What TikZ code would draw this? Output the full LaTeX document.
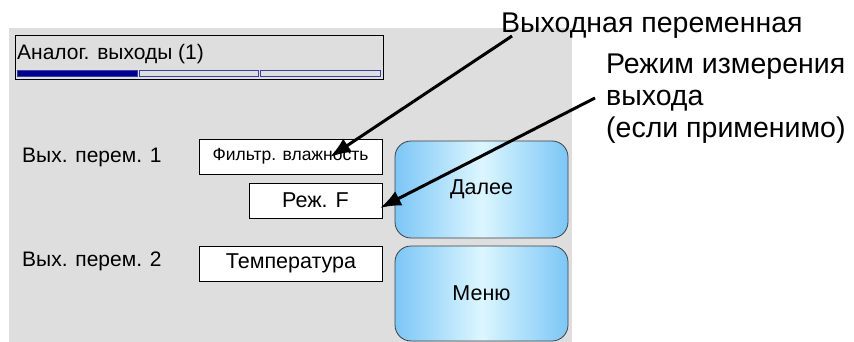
\documentclass[tikz,border=0pt]{standalone}
\usepackage{fontspec}
\setmainfont{Liberation Sans}
\usetikzlibrary{arrows.meta}

\definecolor{panelgray}{HTML}{DEDEDE}
\definecolor{barblue}{HTML}{00008C}
\definecolor{barline}{HTML}{3C3CA8}
\definecolor{btnedge}{HTML}{7CC6F6}
\definecolor{btnmid}{HTML}{DCF6FF}

\begin{document}
\begin{tikzpicture}[x=1pt,y=-1pt,
    field/.style={draw=black, fill=white, line width=0.8pt, minimum height=35pt, inner sep=0pt},
    button/.style={draw=black!75, line width=0.8pt, rounded corners=16pt, left color=btnedge, right color=btnedge, middle color=btnmid, minimum width=173pt, inner sep=0pt},
    caption/.style={anchor=base west, inner sep=0pt, font=\fontsize{21}{24}\selectfont},
    note/.style={inner sep=0pt, align=left, font=\fontsize{28.5}{32}\selectfont},
    pointer/.style={line width=3pt, -{Latex[length=21pt,width=16pt]}}]
  \useasboundingbox (0,0) rectangle (854,342);

  % Draw the panel
  \fill[panelgray] (9,28) rectangle (572,342);

  % Title bar with progress
  \draw[line width=0.8pt, fill=panelgray] (15,35) rectangle (383,79);
  \node[caption] (title) at (17,60) {Аналог. выходы (1)};
  \draw[barline, fill=barblue, line width=0.8pt] (17.5,70.5) rectangle (137,76.5);
  \draw[barline, line width=0.8pt] (139,70.5) rectangle (258,76.5);
  \draw[barline, line width=0.8pt] (260,70.5) rectangle (380.5,76.5);

  % Output variables
  \node[caption] (var1) at (22,162) {Вых. перем. 1};
  \node[caption] (var2) at (22,266) {Вых. перем. 2};
  \node[field, minimum width=183pt, font=\fontsize{17.5}{20}\selectfont] (filter) at (290.5,156.5) {Фильтр. влажность};
  \node[field, minimum width=133pt, font=\fontsize{21.5}{24}\selectfont] (mode) at (315.5,200.5) {Реж. F};
  \node[field, minimum width=183pt, font=\fontsize{21.5}{24}\selectfont] (temp) at (291,263.5) {Температура};

  % Buttons
  \node[button, minimum height=97pt, font=\fontsize{21.5}{24}\selectfont] (next) at (481.5,189.5) {Далее};
  \node[button, minimum height=95pt, font=\fontsize{21.5}{24}\selectfont] (menu) at (481.5,293.5) {Меню};

  % Callouts
  \node[note, anchor=base west] (outnote) at (501,33) {Выходная переменная};
  \node[note, anchor=north west] (modenote) at (606,54) {Режим измерения\\выхода\\(если применимо)};
  \coordinate (outstart) at (512,36);
  \coordinate (outtip) at (330,157);
  \coordinate (modestart) at (595,98);
  \coordinate (modetip) at (380,208);
  \draw[pointer] (outstart) -- (outtip);
  \draw[pointer] (modestart) -- (modetip);

\end{tikzpicture}
\end{document}
